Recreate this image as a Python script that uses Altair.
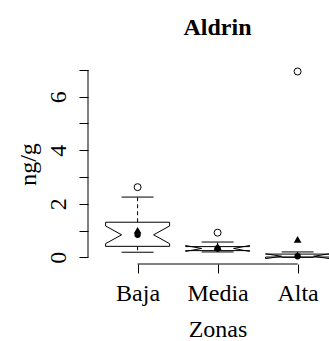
import altair as alt
import pandas as pd

# ---- data ----
zones = ["Baja", "Media", "Alta"]
whisker_lo = [0.19, 0.20, 0.00]
q1 = [0.41, 0.25, 0.01]
median = [0.84, 0.33, 0.04]
q3 = [1.31, 0.40, 0.12]
whisker_hi = [2.25, 0.57, 0.20]
notch_lo = [0.51, 0.22, -0.05]
notch_hi = [1.17, 0.44, 0.13]
means = [1.01, 0.40, 0.67]
outlier_zone = ["Baja", "Media", "Alta"]
outlier_val = [2.62, 0.92, 6.94]
y_ticks = [0, 1, 2, 3, 4, 5, 6, 7]
y_axis_range = [0, 7]

FONT = "Liberation Serif"
BOX = 0.4  # half box width in category units (R boxwex 0.8)

pos = {z: i + 1 for i, z in enumerate(zones)}

# notched box outline (R polygon order)
poly_rows = []
for i, z in enumerate(zones):
    p = pos[z]
    pts = [
        (p - BOX, q1[i]), (p - BOX, notch_lo[i]), (p - BOX / 2, median[i]),
        (p - BOX, notch_hi[i]), (p - BOX, q3[i]), (p + BOX, q3[i]),
        (p + BOX, notch_hi[i]), (p + BOX / 2, median[i]), (p + BOX, notch_lo[i]),
        (p + BOX, q1[i]), (p - BOX, q1[i]),
    ]
    for k, (xx, yy) in enumerate(pts):
        poly_rows.append({"zone": z, "k": k, "x": xx, "y": yy})
poly_df = pd.DataFrame(poly_rows)

stats_df = pd.DataFrame({
    "zone": zones,
    "x": [pos[z] for z in zones],
    "xl": [pos[z] - BOX / 2 for z in zones],
    "xr": [pos[z] + BOX / 2 for z in zones],
    "wlo": whisker_lo, "q1": q1, "med": median, "q3": q3, "whi": whisker_hi,
    "mean": means,
})
out_df = pd.DataFrame({"x": [pos[z] for z in outlier_zone], "y": outlier_val})
yline_df = pd.DataFrame({"a": [y_axis_range[0]], "b": [y_axis_range[1]]})
xline_df = pd.DataFrame({"a": [pos[zones[0]]], "b": [pos[zones[-1]]]})

x_scale = alt.Scale(domain=[0.38, 3.3925], nice=False, zero=False)
y_scale = alt.Scale(domain=[-0.25, 7.22], nice=False, zero=False)

label_expr = " : ".join(
    [f"datum.value == {pos[z]} ? '{z}'" for z in zones[:-1]] + [f"'{zones[-1]}'"]
)

x_axis = alt.Axis(
    values=[pos[z] for z in zones], labelExpr=label_expr, tickSize=9,
    domain=False, grid=False, labelFont=FONT, labelFontSize=24,
    labelColor="black", tickColor="black", labelPadding=27,
    labelBaseline="alphabetic", labelOverlap=False, labelFlush=False,
    title="Zonas", titleFont=FONT, titleFontSize=24, titleFontWeight="normal",
    titleColor="black", titleX=129.5, titleY=72, titleBaseline="alphabetic",
    titleAlign="center",
)
y_axis = alt.Axis(
    values=y_ticks, labelExpr="datum.value % 2 == 0 ? datum.label : ''",
    tickSize=9, domain=False, grid=False, labelFont=FONT, labelFontSize=24,
    labelColor="black", tickColor="black", labelAngle=270, labelAlign="center",
    labelBaseline="alphabetic", labelPadding=14, labelOverlap=False,
    labelFlush=False,
    title="ng/g", titleFont=FONT, titleFontSize=24, titleFontWeight="normal",
    titleColor="black", titleAngle=270, titleX=-53, titleY=100,
    titleBaseline="alphabetic", titleAlign="center",
)


def X(f):
    return alt.X(f, type="quantitative", scale=x_scale, axis=x_axis)


def Y(f):
    return alt.Y(f, type="quantitative", scale=y_scale, axis=y_axis)


boxes = alt.Chart(poly_df).mark_line(color="black", strokeWidth=1, clip=True).encode(
    x=X("x"), y=Y("y"), detail="zone:N", order=alt.Order("k:Q")
)
wh_up = alt.Chart(stats_df).mark_rule(color="black", strokeWidth=1, strokeDash=[4, 3]).encode(
    x=X("x"), y=Y("q3"), y2="whi"
)
wh_lo = alt.Chart(stats_df).mark_rule(color="black", strokeWidth=1, strokeDash=[4, 3]).encode(
    x=X("x"), y=Y("q1"), y2="wlo"
)
cap_up = alt.Chart(stats_df).mark_rule(color="black", strokeWidth=1).encode(
    x=X("xl"), x2="xr", y=Y("whi")
)
cap_lo = alt.Chart(stats_df).mark_rule(color="black", strokeWidth=1).encode(
    x=X("xl"), x2="xr", y=Y("wlo")
)
outl = alt.Chart(out_df).mark_point(
    shape="circle", filled=False, color="black", size=49, strokeWidth=1, opacity=1
).encode(x=X("x"), y=Y("y"))
med_pts = alt.Chart(stats_df).mark_point(
    shape="circle", filled=True, color="black", size=40, opacity=1
).encode(x=X("x"), y=Y("med"))
mean_pts = alt.Chart(stats_df).mark_point(
    shape="triangle-up", filled=True, color="black", size=60, opacity=1
).encode(x=X("x"), y=Y("mean"))
y_line = alt.Chart(yline_df).mark_rule(color="black", strokeWidth=1).encode(
    x=alt.value(0), y=Y("a"), y2="b"
)
x_line = alt.Chart(xline_df).mark_rule(color="black", strokeWidth=1).encode(
    x=X("a"), x2="b", y=alt.value(200)
)

chart = alt.layer(
    boxes, wh_up, wh_lo, cap_up, cap_lo, outl, med_pts, mean_pts, y_line, x_line
).properties(
    width=241, height=200,
    title=alt.TitleParams(
        "Aldrin", font=FONT, fontSize=24, fontWeight="bold", color="black",
        anchor="middle", frame="group", dx=9, baseline="alphabetic", offset=5,
    ),
    autosize=alt.AutoSizeParams(type="none"),
    padding={"left": 88, "top": 64, "right": 0, "bottom": 77},
    background="white",
).configure_view(strokeWidth=0)

chart.save("out.html", embed_options={"renderer": "svg", "actions": False})
